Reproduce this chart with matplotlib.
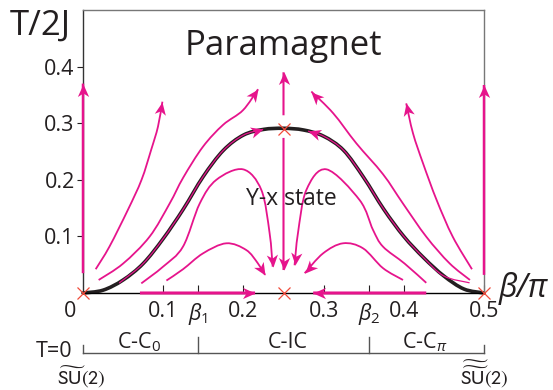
import numpy as np
import matplotlib
matplotlib.use('Agg')
import matplotlib.pyplot as plt
from matplotlib.path import Path
from matplotlib.patches import PathPatch
from matplotlib.markers import MarkerStyle

plt.rcParams['font.family'] = ['Open Sans', 'DejaVu Sans']
plt.rcParams['mathtext.fontset'] = 'custom'
plt.rcParams['mathtext.rm'] = 'Open Sans'
plt.rcParams['mathtext.it'] = 'Open Sans:italic'
plt.rcParams['mathtext.bf'] = 'Open Sans:bold'

MAG = '#e6148c'
INK = '#231f20'
RED = '#f04a3a'

# phase boundary T_c(beta)
bnd_x = [0, 0.025, 0.05, 0.075, 0.1, 0.125, 0.15, 0.175, 0.2, 0.225, 0.25,
         0.275, 0.3, 0.325, 0.35, 0.375, 0.4, 0.425, 0.45, 0.475, 0.5]
bnd_y = [0, 0.005, 0.023, 0.052, 0.096, 0.148, 0.206, 0.252, 0.279, 0.289, 0.291,
         0.288, 0.277, 0.252, 0.204, 0.148, 0.100, 0.062, 0.030, 0.007, 0]

# RG flow lines (each ends at its arrow tip)
flows = {
    'left_outer':  ([0.0158, 0.033, 0.056, 0.073, 0.085, 0.0935, 0.099],
                    [0.042, 0.082, 0.147, 0.200, 0.253, 0.294, 0.338]),
    'left_second': ([0.0195, 0.050, 0.083, 0.108, 0.125, 0.1496, 0.1746, 0.1995, 0.2182],
                    [0.023, 0.052, 0.0995, 0.158, 0.204, 0.2585, 0.297, 0.323, 0.360]),
    'left_bump':   ([0.0727, 0.0998, 0.1247, 0.1455, 0.1663, 0.1995, 0.2224, 0.2327, 0.2365],
                    [0.017, 0.0465, 0.082, 0.158, 0.200, 0.2185, 0.182, 0.1055, 0.0465]),
    'left_low':    ([0.104, 0.1247, 0.1496, 0.1787, 0.2035, 0.218, 0.227],
                    [0.022, 0.042, 0.070, 0.0878, 0.076, 0.0525, 0.032]),
    'right_outer': ([0.485, 0.461, 0.441, 0.424, 0.4115, 0.403],
                    [0.042, 0.0995, 0.164, 0.229, 0.282, 0.335]),
    'right_second': ([0.4825, 0.457, 0.428, 0.399, 0.374, 0.3408, 0.312, 0.2847],
                     [0.023, 0.0525, 0.0995, 0.158, 0.210, 0.2645, 0.3175, 0.356]),
    'right_bump':  ([0.428, 0.401, 0.374, 0.3616, 0.345, 0.3035, 0.2785, 0.2680, 0.2638],
                    [0.018, 0.052, 0.082, 0.1115, 0.164, 0.2185, 0.182, 0.1055, 0.049]),
    'right_low':   ([0.399, 0.374, 0.3491, 0.3242, 0.2993, 0.2764],
                    [0.023, 0.044, 0.079, 0.0878, 0.070, 0.035]),
}
# straight flows: (x0, y0, x1, y1, linewidth)
straight = [
    (0.0, 0.035, 0.0, 0.370, 1.8),
    (0.5, 0.032, 0.5, 0.3675, 1.8),
    (0.25, 0.314, 0.25, 0.390, 1.5),
    (0.25, 0.274, 0.25, 0.0406, 1.5),
    (0.071, 0.0, 0.2145, 0.0, 2.2),
    (0.428, 0.0, 0.287, 0.0, 2.2),
]
fixed_x = [0.0, 0.25, 0.5, 0.25]
fixed_y = [0.0, 0.0, 0.0, 0.29]

beta1, beta2 = 0.144, 0.357
xticks = [0.1, beta1, 0.2, 0.3, beta2, 0.4, 0.5]
xlabels = ['0.1', r'$\beta_{1}$', '0.2', '0.3', r'$\beta_{2}$', '0.4', '0.5']
yticks = [0.1, 0.2, 0.3, 0.4]

fig = plt.figure(figsize=(5.53, 3.9), dpi=100)
ax = fig.add_axes([83 / 553, 97 / 390, 401 / 553, 283 / 390])
ax.set_xlim(0, 0.5)
ax.set_ylim(0, 0.5)

for side in ['top', 'right']:
    ax.spines[side].set_color('#777777')
ax.spines['left'].set_color('#333333')
ax.spines['bottom'].set_color('black')
for s in ax.spines.values():
    s.set_linewidth(1.0)

ax.set_xticks(xticks)
ax.set_xticklabels(xlabels)
ax.set_yticks(yticks)
ax.set_yticklabels(['%.1f' % v for v in yticks])
ax.tick_params(axis='x', direction='in', length=5.5, width=0.8, pad=6,
               labelsize=15.5, colors=INK)
ax.tick_params(axis='y', direction='out', length=4, width=0.8, pad=2,
               labelsize=15.5, colors=INK)
ax.annotate('0', xy=(0, 0), xytext=(-9, -6), textcoords='offset points',
            ha='center', va='top', fontsize=15.5, color=INK)

# arrow head shape (tip at origin, pointing along +x)
head = Path([(0, 0), (-1, 0.45), (-0.72, 0), (-1, -0.45), (0, 0)],
            [Path.MOVETO, Path.LINETO, Path.LINETO, Path.LINETO, Path.CLOSEPOLY])


def smooth_path(xs, ys):
    # cubic segments through the given points (Catmull-Rom tangents)
    P = np.column_stack([xs, ys]).astype(float)
    n = len(P)
    verts, codes = [P[0]], [Path.MOVETO]
    for i in range(n - 1):
        p0 = P[i - 1] if i > 0 else P[i]
        p3 = P[i + 2] if i + 2 < n else P[i + 1]
        verts += [P[i] + (P[i + 1] - p0) / 6, P[i + 1] - (p3 - P[i]) / 6, P[i + 1]]
        codes += [Path.CURVE4] * 3
    return Path(verts, codes)


def draw_flow(xs, ys, lw=1.3, color=MAG, z=3, arrow=True):
    ax.add_patch(PathPatch(smooth_path(xs, ys), fill=False, ec=color, lw=lw,
                           clip_on=False, zorder=z, capstyle='butt', joinstyle='round'))
    if not arrow:
        return
    p = ax.transData.transform([[xs[-2], ys[-2]], [xs[-1], ys[-1]]])
    d = p[1] - p[0]
    ang = np.degrees(np.arctan2(d[1], d[0]))
    ax.plot([xs[-1]], [ys[-1]], ls='none', marker=MarkerStyle(head).rotated(deg=ang),
            ms=18, mfc=color, mec='none', clip_on=False, zorder=z + 1)


# phase boundary, magenta core with arrows toward the top
ax.add_patch(PathPatch(smooth_path(bnd_x, bnd_y), fill=False, ec=INK, lw=2.6,
                       clip_on=False, zorder=2, capstyle='round'))
core_l_x = [0.045] + bnd_x[2:9] + [0.2244]
core_l_y = [0.018] + bnd_y[2:9] + [0.289]
draw_flow(core_l_x, core_l_y, lw=0.9, z=2.5)
core_r_x = [0.482] + bnd_x[-3:11:-1] + [0.2806]
core_r_y = [0.018] + bnd_y[-3:11:-1] + [0.286]
draw_flow(core_r_x, core_r_y, lw=0.9, z=2.5)

for name, (xs, ys) in flows.items():
    draw_flow(xs, ys)

for x0, y0, x1, y1, lw in straight:
    draw_flow([x0, x1], [y0, y1], lw=lw)

ax.plot(fixed_x, fixed_y, ls='none', marker='x', ms=8, mew=0.9, color=RED,
        clip_on=False, zorder=6)

ax.text(0.25, 0.42, 'Paramagnet', ha='center', va='baseline', fontsize=25, color=INK)
ax.text(0.26, 0.155, 'Y-x state', ha='center', va='baseline', fontsize=16.5, color=INK)
ax.text(0.518, -0.0065, 'β/π', ha='left', va='baseline', fontsize=23,
        style='italic', color=INK, clip_on=False)
fig.text(10 / 553, 1 - 35 / 390, 'T/2J', ha='left', va='baseline', fontsize=25, color=INK)

# T = 0 phase line below the axis
yl = -0.106
ax.plot([0, 0.5], [yl, yl], color='#555555', lw=1.0, clip_on=False)
for bx, top in [(0, -0.092), (beta1, -0.078), (beta2, -0.078), (0.5, -0.092)]:
    ax.plot([bx, bx], [top, yl], color='#555555', lw=1.0, clip_on=False)
ax.text(0.070, -0.097, r'C-C$_{0}$', ha='center', va='baseline', fontsize=15.5, color=INK)
ax.text(0.2556, -0.097, 'C-IC', ha='center', va='baseline', fontsize=15.5, color=INK)
ax.text(0.426, -0.097, r'C-C$_{\pi}$', ha='center', va='baseline', fontsize=15.5, color=INK)
ax.text(-0.0137, -0.113, 'T=0', ha='right', va='baseline', fontsize=15.5, color=INK)
ax.text(-0.0025, -0.161, r'$\widetilde{\mathrm{SU}}\mathrm{(2)}$', ha='center',
        va='baseline', fontsize=14.5, color=INK, math_fontfamily='stixsans')
ax.text(0.501, -0.161, r'$\widetilde{\widetilde{\mathrm{SU}}}\mathrm{(2)}$', ha='center',
        va='baseline', fontsize=14.5, color=INK, math_fontfamily='stixsans')

fig.savefig('out.png', dpi=100, facecolor='white')
